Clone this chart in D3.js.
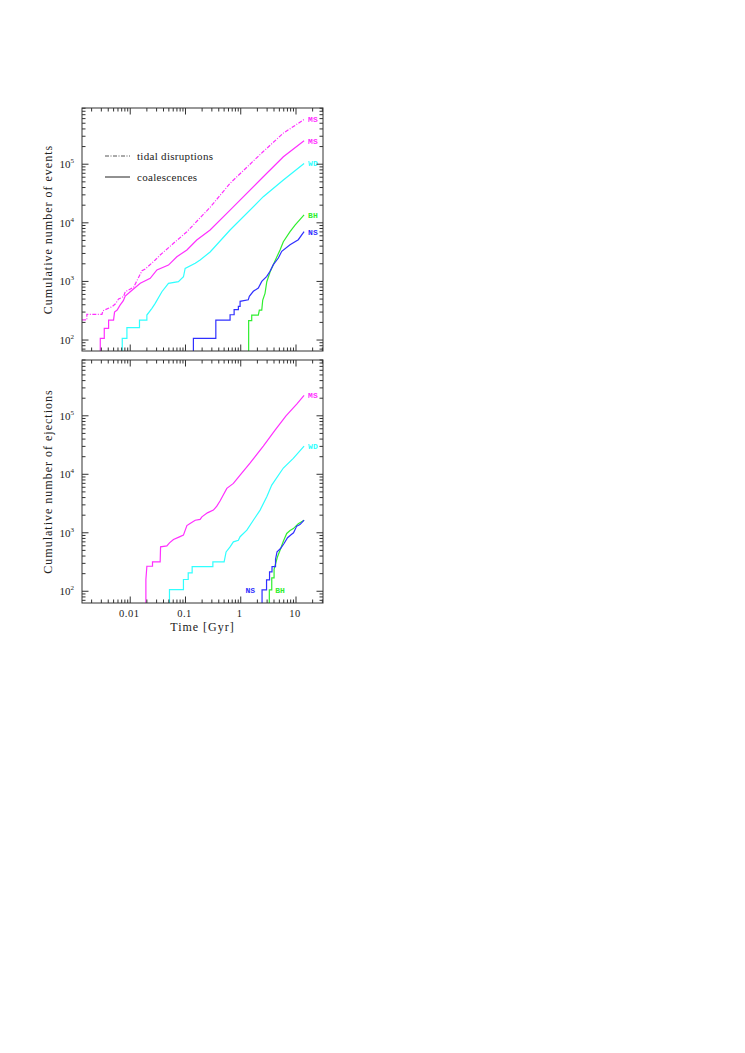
<!DOCTYPE html>
<html><head><meta charset="utf-8">
<script src="https://cdn.jsdelivr.net/npm/d3@7"></script>
<style>body{margin:0;background:#fff}</style>
</head><body>
<svg id="c" width="745" height="1053" xmlns="http://www.w3.org/2000/svg"></svg>
<script>
// ---------- data: [time in Gyr, cumulative number] ----------
const tidalMS = [[0.00134,220],[0.00164,220],[0.00164,275],[0.00308,275],[0.00321,316],[0.00467,370],[0.00535,411],[0.00615,501],[0.00757,549],[0.00812,667],[0.0115,793],[0.0163,1520],[0.0187,1630],[0.0283,2320],[0.0348,2820],[0.0606,4470],[0.106,7050],[0.279,18400],[0.641,47200],[2.53,163000],[5.83,336000],[14,580000]];
const coalMS = [[0.00287,10],[0.00287,107],[0.00339,107],[0.00339,158],[0.00406,158],[0.00406,219],[0.00499,219],[0.0052,300],[0.0058,325],[0.0065,390],[0.0075,470],[0.00812,563],[0.01,667],[0.0152,929],[0.023,1130],[0.0304,1570],[0.0492,1900],[0.0698,2640],[0.106,3440],[0.16,5080],[0.279,7530],[0.641,16500],[2.56,61200],[5.91,134000],[14,252000]];
const coalWD = [[0.00717,10],[0.00717,107],[0.00871,107],[0.00871,163],[0.0147,163],[0.0147,219],[0.02,219],[0.02,267],[0.0247,347],[0.0283,423],[0.0374,667],[0.0492,929],[0.0746,989],[0.0919,1200],[0.0986,1670],[0.15,2040],[0.184,2320],[0.279,3180],[0.641,7530],[2.56,27900],[5.91,53700],[14,103000]];
const coalNS = [[0.139,10],[0.139,107],[0.354,107],[0.354,219],[0.641,219],[0.641,270],[0.759,270],[0.759,329],[0.906,329],[0.906,376],[0.973,376],[0.973,457],[1.37,487],[1.43,557],[1.69,678],[2.08,771],[2.40,1000],[2.96,1220],[3.39,1490],[3.89,1930],[4.79,2510],[5.52,3260],[7.8,4230],[11.0,5150],[14,7100]];
const coalBH = [[1.39,10],[1.39,215],[1.58,215],[1.58,267],[2.08,267],[2.17,325],[2.40,325],[2.50,481],[2.75,626],[2.96,988],[3.39,1450],[4.18,2250],[5.14,3440],[5.90,4760],[7.8,7050],[9.6,9170],[14,13700]];

const ejMS = [[0.0192,10],[0.0192,159],[0.02,268],[0.0253,268],[0.0253,318],[0.0348,318],[0.0354,574],[0.046,597],[0.0513,672],[0.0606,767],[0.0778,851],[0.0918,910],[0.106,1330],[0.121,1440],[0.15,1640],[0.184,1690],[0.198,1870],[0.249,2190],[0.32,2440],[0.369,2850],[0.424,3520],[0.56,5740],[0.736,6980],[0.973,9680],[1.47,15500],[2.56,30400],[4.18,57100],[6.59,100000],[10.3,159000],[14,223000]];
const ejWD = [[0.0513,10],[0.0513,107],[0.0918,107],[0.0918,159],[0.112,159],[0.112,207],[0.132,207],[0.132,263],[0.313,263],[0.313,318],[0.50,318],[0.543,471],[0.641,573],[0.736,699],[0.906,746],[0.973,857],[1.29,1110],[1.69,1640],[2.24,2440],[2.96,4120],[3.64,6530],[5.9,12800],[8.93,18700],[14,30400]];
const ejNS = [[2.43,10],[2.43,106],[2.93,106],[2.93,157],[3.32,157],[3.32,214],[3.68,214],[3.68,263],[4.26,263],[4.26,353],[4.54,471],[5.25,538],[6.07,656],[7.03,824],[8.12,927],[9.02,1000],[10.3,1300],[11.8,1380],[14,1640]];
const ejBH = [[3.29,10],[3.29,106],[3.64,106],[3.64,170],[4.01,170],[4.01,238],[4.59,382],[5.14,504],[5.9,718],[6.79,973],[7.8,1090],[8.94,1180],[11,1430],[14,1640]];

const xTickValues = [0.01, 0.1, 1, 10];
const xTickLabels = ["0.01", "0.1", "1", "10"];
const yTickValues = [1e2, 1e3, 1e4, 1e5];
const yTickExps = ["2", "3", "4", "5"];
const legendLabels = ["tidal disruptions", "coalescences"];
const xTitle = "Time [Gyr]";
const yTitles = ["Cumulative number of events", "Cumulative number of ejections"];

// ---------- drawing ----------
const C = {MS:"#ff30ff", WD:"#30ffff", NS:"#3030ff", BH:"#30ee30"};
const svg = d3.select("#c");
const L = 82, R = 323;
const x = d3.scaleLog().domain([0.00134, 30.8]).range([L, R]);
const panels = [
  {top:108, bottom:351, y:d3.scaleLog().domain([65, 9.1e5]).range([351,108]), title:yTitles[0],
   series:[
     {d:tidalMS, c:C.MS, dash:"4,1.5,1,1.5", lab:"MS"},
     {d:coalMS, c:C.MS, lab:"MS"},
     {d:coalWD, c:C.WD, lab:"WD"},
     {d:coalBH, c:C.BH, lab:"BH"},
     {d:coalNS, c:C.NS, lab:"NS"}
   ]},
  {top:360, bottom:603, y:d3.scaleLog().domain([63, 9.0e5]).range([603,360]), title:yTitles[1],
   series:[
     {d:ejMS, c:C.MS, lab:"MS"},
     {d:ejWD, c:C.WD, lab:"WD"},
     {d:ejBH, c:C.BH, lab:"BH", bottomLab:"right"},
     {d:ejNS, c:C.NS, lab:"NS", bottomLab:"left"}
   ]}
];

const serif = "'Liberation Serif','DejaVu Serif',serif";
const mono = "'Liberation Mono','DejaVu Sans Mono',monospace";

function minorTicks(d0, d1){
  const out=[];
  for(let e=-4;e<=7;e++) for(let m=1;m<=9;m++){
    const v=m*Math.pow(10,e);
    if(v>=d0 && v<=d1) out.push({v, major:m===1});
  }
  return out;
}
const xt = minorTicks(x.domain()[0], x.domain()[1]);

panels.forEach((p,pi)=>{
  const g = svg.append("g");
  const y = p.y;
  const clipId = "clip"+pi;
  svg.append("clipPath").attr("id",clipId).append("rect")
    .attr("x",L).attr("y",p.top).attr("width",R-L).attr("height",p.bottom-p.top);

  const line = d3.line().x(d=>x(d[0])).y(d=>y(d[1]));
  p.series.forEach(s=>{
    g.append("path").attr("d",line(s.d)).attr("fill","none")
      .attr("stroke",s.c).attr("stroke-width",1.2)
      .attr("stroke-dasharray",s.dash||null)
      .attr("clip-path","url(#"+clipId+")");
    const last = s.d[s.d.length-1];
    if(!s.bottomLab){
      g.append("text").attr("x",x(last[0])+4).attr("y",y(last[1])+3)
        .attr("fill",s.c).attr("font-family",mono).attr("font-size",8).attr("font-weight","bold")
        .text(s.lab);
    } else {
      const first = s.d[0];
      const xx = s.bottomLab==="left" ? x(first[0])-7 : x(first[0])+6;
      g.append("text").attr("x",xx).attr("y",y(100)+2)
        .attr("text-anchor", s.bottomLab==="left"?"end":"start")
        .attr("fill",s.c).attr("font-family",mono).attr("font-size",8).attr("font-weight","bold")
        .text(s.lab);
    }
  });

  g.append("rect").attr("x",L).attr("y",p.top).attr("width",R-L).attr("height",p.bottom-p.top)
    .attr("fill","none").attr("stroke","#333").attr("stroke-width",1);

  xt.forEach(t=>{
    const len = t.major?6.5:3.5, xx=x(t.v);
    g.append("line").attr("x1",xx).attr("x2",xx).attr("y1",p.bottom).attr("y2",p.bottom-len).attr("stroke","#333");
    g.append("line").attr("x1",xx).attr("x2",xx).attr("y1",p.top).attr("y2",p.top+len).attr("stroke","#333");
  });
  minorTicks(y.domain()[0], y.domain()[1]).forEach(t=>{
    const len = t.major?6.5:3.5, yy=y(t.v);
    g.append("line").attr("y1",yy).attr("y2",yy).attr("x1",L).attr("x2",L+len).attr("stroke","#333");
    g.append("line").attr("y1",yy).attr("y2",yy).attr("x1",R).attr("x2",R-len).attr("stroke","#333");
  });
  yTickValues.forEach((v,i)=>{
    const t = g.append("text").attr("x",L-8).attr("y",y(v)+4).attr("text-anchor","end")
      .attr("font-family",serif).attr("font-size",11).attr("fill","#222");
    t.append("tspan").text("10");
    t.append("tspan").attr("dy",-5).attr("font-size",7).text(yTickExps[i]);
  });
  const cy = (p.top+p.bottom)/2;
  g.append("text").attr("transform",`translate(52,${cy}) rotate(-90)`).attr("text-anchor","middle")
    .attr("font-family",serif).attr("font-size",12).attr("letter-spacing",1).attr("fill","#222")
    .text(p.title);

  if(pi===1){
    xTickValues.forEach((v,i)=>{
      g.append("text").attr("x",x(v)-1).attr("y",p.bottom+14).attr("text-anchor","middle")
        .attr("font-family",serif).attr("font-size",10.5).attr("letter-spacing",0.5).attr("fill","#222")
        .text(xTickLabels[i]);
    });
    g.append("text").attr("x",(L+R)/2).attr("y",p.bottom+28).attr("text-anchor","middle")
      .attr("font-family",serif).attr("font-size",12).attr("letter-spacing",1).attr("fill","#222")
      .text(xTitle);
  }
  if(pi===0){
    const lg = g.append("g");
    lg.append("line").attr("x1",105).attr("x2",130).attr("y1",156).attr("y2",156)
      .attr("stroke","#555").attr("stroke-dasharray","4,1.5,1,1.5");
    lg.append("line").attr("x1",105).attr("x2",130).attr("y1",177).attr("y2",177).attr("stroke","#222");
    lg.append("text").attr("x",137).attr("y",159.5).attr("font-family",serif).attr("font-size",11)
      .attr("letter-spacing",0.3).attr("fill","#222").text(legendLabels[0]);
    lg.append("text").attr("x",137).attr("y",180.5).attr("font-family",serif).attr("font-size",11)
      .attr("letter-spacing",0.3).attr("fill","#222").text(legendLabels[1]);
  }
});
</script>
</body></html>
